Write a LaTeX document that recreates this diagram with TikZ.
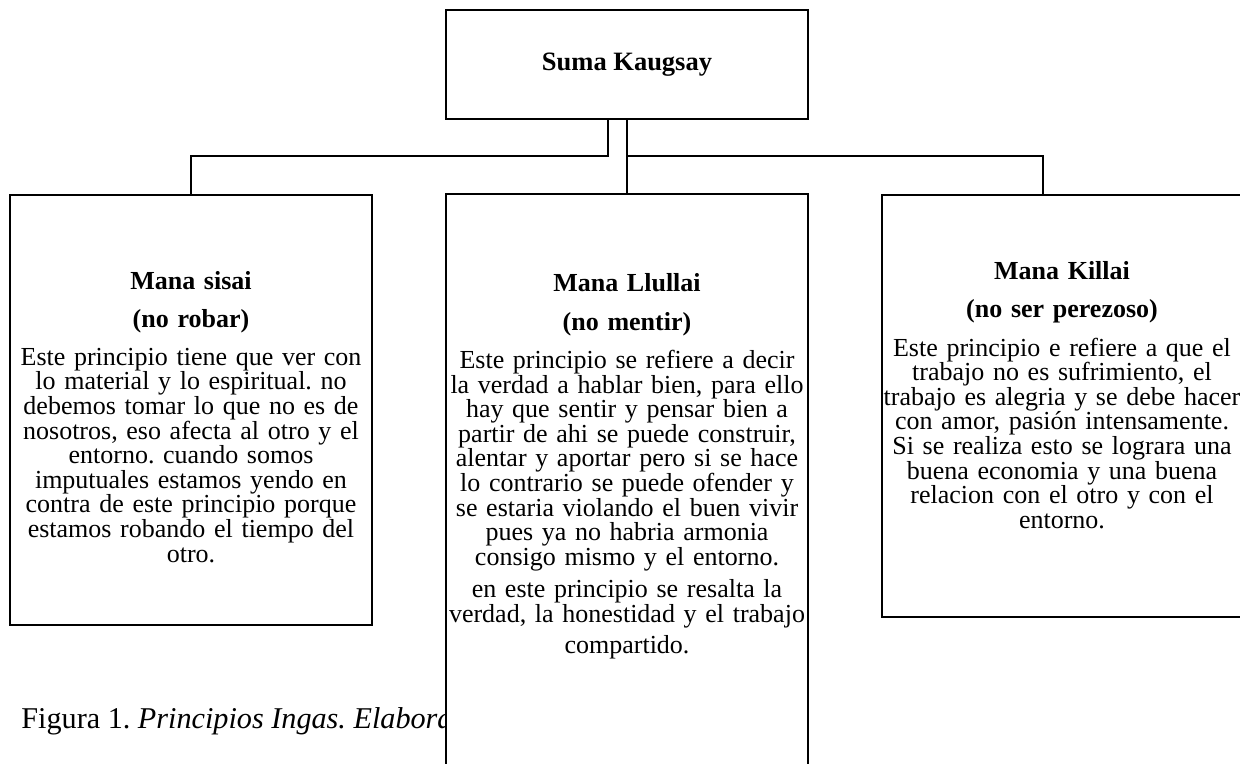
\documentclass[tikz,border=0pt]{standalone}
\usepackage{fontspec}
\setmainfont{Liberation Serif}
\usetikzlibrary{positioning}
\frenchspacing

\begin{document}
\begin{tikzpicture}[x=0.5pt,y=-0.5pt,
        box/.style={draw,line width=1pt,fill=white,minimum width=181pt,inner sep=0pt},
        txt/.style={anchor=base,align=center,text width=190pt,inner sep=0pt,
            font=\fontsize{13}{12.3}\selectfont},
        conn/.style={line width=1pt}]

    \useasboundingbox (0,0) rectangle (1240,764);

    \node[anchor=base west,inner sep=0pt,font=\fontsize{15.1}{18}\selectfont] (fig) at (21,728)
        {Figura 1. \textit{Principios Ingas. Elabora}};

    \node[box,minimum height=54.5pt,font=\fontsize{13.25}{15}\selectfont\bfseries] (root) at (627,64.5) {Suma Kaugsay};
    \node[box,minimum height=215pt] (sisai) at (191,410) {};
    \node[box,minimum height=298pt] (llullai) at (627,492) {};
    \node[box,minimum height=211pt] (killai) at (1063,406) {};

    \node[txt] (sisaitxt) at (191,290) {\textbf{Mana sisai}\\[6.5pt]
        \textbf{(no robar)}\\[6.5pt]
        Este principio tiene que ver con\\
        lo material y lo espiritual. no\\
        debemos tomar lo que no es de\\
        nosotros, eso afecta al otro y el\\
        entorno. cuando somos\\
        imputuales estamos yendo en\\
        contra de este principio porque\\
        estamos robando el tiempo del\\
        otro.};
    \node[txt] (llullaitxt) at (627,292) {\textbf{Mana Llullai}\\[7pt]
        \textbf{(no mentir)}\\[6.7pt]
        Este principio se refiere a decir\\
        la verdad a hablar bien, para ello\\
        hay que sentir y pensar bien a\\
        partir de ahi se puede construir,\\
        alentar y aportar pero si se hace\\
        lo contrario se puede ofender y\\
        se estaria violando el buen vivir\\
        pues ya no habria armonia\\
        consigo mismo y el entorno.\\[3.75pt]
        en este principio se resalta la\\
        verdad, la honestidad y el trabajo\\[3.5pt]
        compartido.};
    \node[txt] (killaitxt) at (1062,280) {\textbf{Mana Killai}\\[6.7pt]
        \textbf{(no ser perezoso)}\\[6.7pt]
        Este principio e refiere a que el\\
        trabajo no es sufrimiento, el\\
        trabajo es alegria y se debe hacer\\
        con amor, pasión intensamente.\\
        Si se realiza esto se lograra una\\
        buena economia y una buena\\
        relacion con el otro y con el\\
        entorno.};

    \draw[conn] ([xshift=-9.5pt]root.south) -- ++(0,36) -| (sisai.north);
    \draw[conn] (root.south) -- (llullai.north);
    \draw[conn] (root.south) ++(0,36) -| ([xshift=-10pt]killai.north);

\end{tikzpicture}
\end{document}
